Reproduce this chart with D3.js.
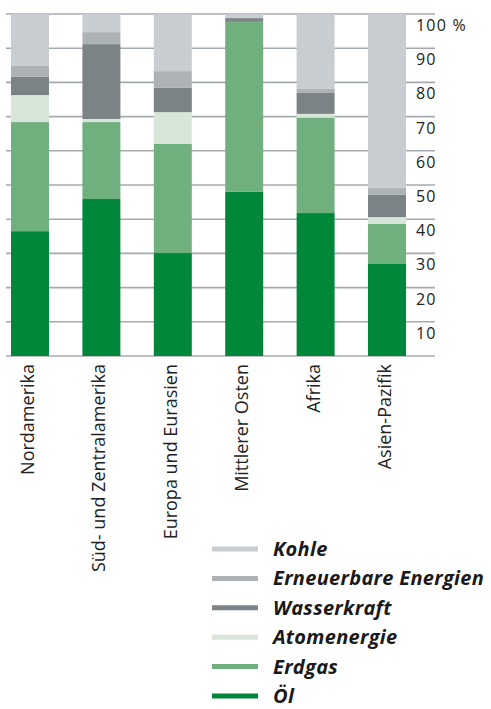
<!DOCTYPE html>
<html>
<head>
<meta charset="utf-8">
<script src="https://cdn.jsdelivr.net/npm/d3@7"></script>
<style>
  html, body { margin: 0; padding: 0; background: #fff; }
  svg { display: block; }
</style>
</head>
<body>
<div id="chart"></div>
<script>
// ── Data ──
const regions = ['Nordamerika', 'Süd- und Zentralamerika', 'Europa und Eurasien',
                 'Mittlerer Osten', 'Afrika', 'Asien-Pazifik'];
// stacking order: bottom to top
const sources = ['Öl', 'Erdgas', 'Atomenergie', 'Wasserkraft', 'Erneuerbare Energien', 'Kohle'];
const oil        = [36.5, 45.9, 30.1, 48.0, 41.8, 26.9];
const gas        = [31.9, 22.5, 31.9, 49.7, 27.9, 11.7];
const nuclear    = [7.9, 0.9, 9.3, 0.0, 1.1, 2.0];
const hydro      = [5.3, 21.9, 7.1, 1.1, 6.1, 6.5];
const renewables = [3.2, 3.5, 4.9, 0.0, 1.2, 2.0];
const coal       = [15.2, 5.3, 16.7, 1.2, 21.9, 50.9];
const yTicks = [10, 20, 30, 40, 50, 60, 70, 80, 90, 100];
// legend order: top to bottom
const legendOrder = ['Kohle', 'Erneuerbare Energien', 'Wasserkraft', 'Atomenergie', 'Erdgas', 'Öl'];

const COLORS = {
    'Öl': '#00873a',
    'Erdgas': '#70b07f',
    'Atomenergie': '#d7e6d9',
    'Wasserkraft': '#7b8386',
    'Erneuerbare Energien': '#adb2b5',
    'Kohle': '#c8cdd1',
};

const FONT = "'Open Sans', 'Noto Sans', sans-serif";
const width = 491, height = 709;

// build rows for d3.stack
const series = [oil, gas, nuclear, hydro, renewables, coal];
const rows = regions.map((r, i) => {
    const row = { region: r };
    sources.forEach((s, k) => { row[s] = series[k][i]; });
    return row;
});

const svg = d3.select('#chart').append('svg')
    .attr('width', width)
    .attr('height', height);

const x = d3.scaleBand()
    .domain(regions)
    .range([11, 406])
    .paddingInner(0.468)
    .paddingOuter(0);

const y = d3.scaleLinear()
    .domain([0, 100])
    .range([356, 14]);

// ── Gridlines ──
svg.append('g')
    .selectAll('line')
    .data([0].concat(yTicks))
    .join('line')
    .attr('x1', 6).attr('x2', 435)
    .attr('y1', d => y(d)).attr('y2', d => y(d))
    .attr('stroke', '#a3abb1')
    .attr('stroke-width', 1.6);

// ── Bars ──
const stacked = d3.stack().keys(sources)(rows);
svg.append('g')
    .selectAll('g')
    .data(stacked)
    .join('g')
    .attr('fill', d => COLORS[d.key])
    .selectAll('rect')
    .data(d => d)
    .join('rect')
    .attr('x', d => x(d.data.region))
    .attr('width', x.bandwidth())
    .attr('y', d => y(d[1]))
    .attr('height', d => y(d[0]) - y(d[1]));

// ── Y tick labels (right) ──
svg.append('g')
    .selectAll('text')
    .data(yTicks)
    .join('text')
    .attr('x', 416)
    .attr('y', d => y(d) + 17)
    .attr('font-family', FONT)
    .attr('font-size', '16px')
    .attr('letter-spacing', '1.2px')
    .attr('fill', '#222')
    .text(d => d === 100 ? '100 %' : d);

// ── Category labels ──
svg.append('g')
    .selectAll('text')
    .data(regions)
    .join('text')
    .attr('transform', d => `translate(${x(d) + x.bandwidth() / 2 + 4},364) rotate(-90)`)
    .attr('text-anchor', 'end')
    .attr('font-family', FONT)
    .attr('font-size', '18px')
    .attr('fill', '#222')
    .text(d => d);

// ── Legend ──
const legend = svg.append('g');
legendOrder.forEach((name, i) => {
    const cy = 549 + i * 29.4;
    legend.append('line')
        .attr('x1', 212).attr('x2', 258)
        .attr('y1', cy).attr('y2', cy)
        .attr('stroke', COLORS[name])
        .attr('stroke-width', 5);
    legend.append('text')
        .attr('x', 273)
        .attr('y', cy + 7)
        .attr('font-family', FONT)
        .attr('font-size', '20px')
        .attr('letter-spacing', '0.3px')
        .attr('font-weight', 'bold')
        .attr('font-style', 'italic')
        .attr('fill', '#1a1a1a')
        .text(name);
});
</script>
</body>
</html>
